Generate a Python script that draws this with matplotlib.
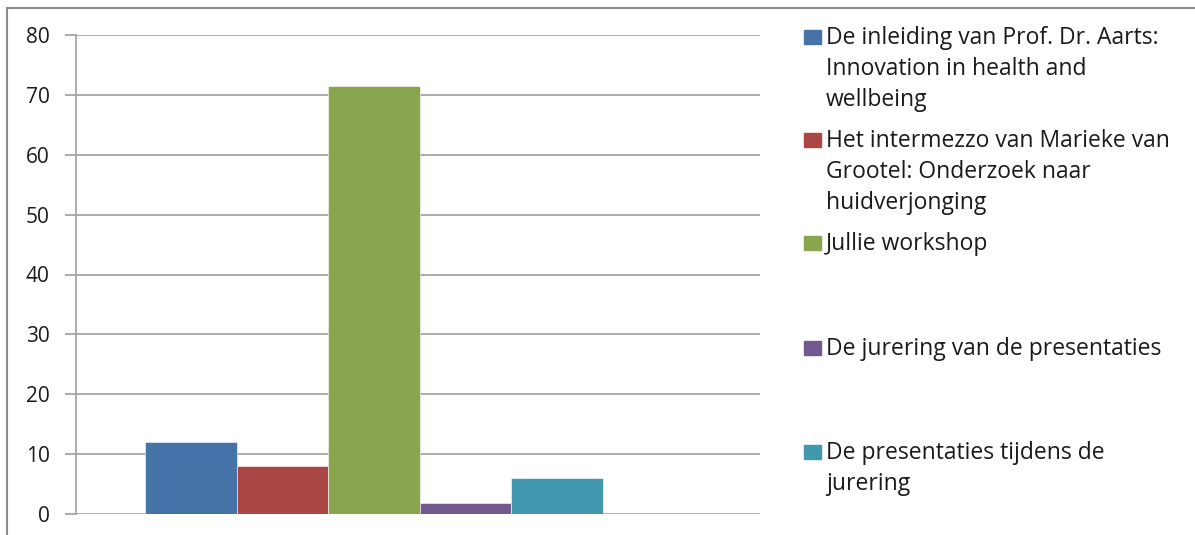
import matplotlib.pyplot as plt
from matplotlib.patches import Rectangle

plt.rcParams['font.family'] = ['Open Sans', 'DejaVu Sans']

# data
labels = [
    'De inleiding van Prof. Dr. Aarts:\nInnovation in health and\nwellbeing',
    'Het intermezzo van Marieke van\nGrootel: Onderzoek naar\nhuidverjonging',
    'Jullie workshop',
    'De jurering van de presentaties',
    'De presentaties tijdens de\njurering',
]
values = [12.1, 8.0, 71.5, 1.9, 6.0]
colors = ['#4572A7', '#AA4643', '#89A54E', '#71588F', '#4198AF']
yticks = [0, 10, 20, 30, 40, 50, 60, 70, 80]

W, H = 1195, 535
fig = plt.figure(figsize=(W / 100, H / 100), dpi=100)

# outer frame of the chart
fig.patches.append(Rectangle((7 / W, -0.1), 1.2, 1.1 - 8 / H, transform=fig.transFigure,
                             fill=False, edgecolor='#8c8c8c', linewidth=1.5))

ax = fig.add_axes([76 / W, 1 - 514 / H, (760 - 76) / W, (514 - 35) / H])
for i, v in enumerate(values):
    ax.bar(i, v, width=1.0, color=colors[i], edgecolor='#ffffff', linewidth=0.4, zorder=3)

ax.set_xlim(-1.254, 6.22)
ax.set_ylim(0, 80)
ax.set_yticks(yticks)
ax.set_yticklabels([str(t) for t in yticks], fontsize=15, color='#1a1a1a')
ax.set_xticks([])
ax.grid(axis='y', color='#a6a6a6', linewidth=1.3, zorder=0)
ax.tick_params(axis='y', length=8, width=1.3, color='#a6a6a6', pad=11)
for s in ['top', 'right', 'bottom']:
    ax.spines[s].set_visible(False)
ax.spines['left'].set_color('#a6a6a6')
ax.spines['left'].set_linewidth(1.3)

# legend drawn by hand to match the spacing of the original
leg_y = [37, 140, 243, 348, 452]
for lab, c, y in zip(labels, colors, leg_y):
    fig.patches.append(Rectangle((804 / W, 1 - (y + 7) / H), 17 / W, 14 / H,
                                 transform=fig.transFigure, color=c))
    fig.text(826 / W, 1 - (y - 11) / H, lab, fontsize=16.5, va='top', ha='left',
             color='#1a1a1a', linespacing=1.38)

fig.savefig('out.png', dpi=100)
